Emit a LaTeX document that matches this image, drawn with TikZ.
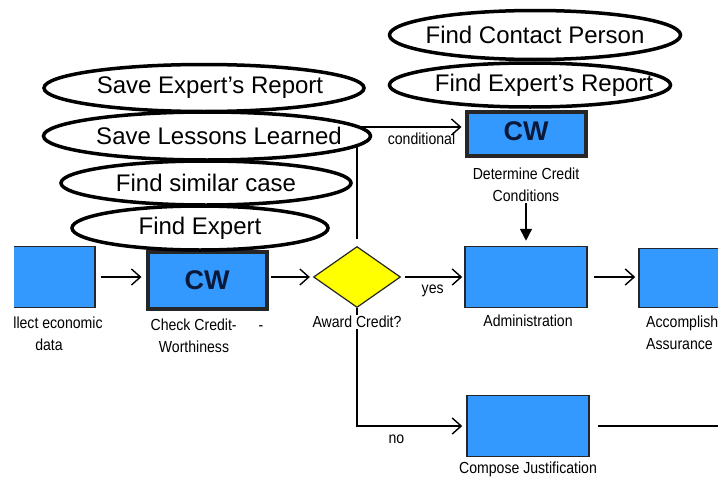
\documentclass[tikz,border=0pt]{standalone}
\usepackage{fontspec}
\setmainfont{Liberation Sans}
\newfontfamily\narrowfont[FakeStretch=0.88]{Liberation Sans}
\usetikzlibrary{shapes.geometric,arrows.meta}
\definecolor{boxblue}{RGB}{51,153,255}
\definecolor{cwnavy}{RGB}{12,24,56}
\definecolor{decyellow}{RGB}{255,255,0}
\tikzset{
  task/.style={draw=black!85,fill=boxblue,line width=1.5pt,minimum width=122pt,minimum height=61pt,inner sep=0pt},
  cwtask/.style={task,line width=4pt,minimum width=119pt,minimum height=57pt,text=cwnavy,font=\fontsize{27}{27}\selectfont\bfseries},
  decision/.style={diamond,draw=black!85,fill=decyellow,line width=1.2pt,aspect=1.43,minimum width=87pt,minimum height=61pt,inner sep=0pt},
  service/.style={ellipse,draw,fill=white,line width=3.5pt,inner xsep=-60pt,inner ysep=0pt,font=\fontsize{24}{24}\selectfont},
  caption/.style={font=\narrowfont\fontsize{16}{22}\selectfont,align=center,fill=white,inner sep=1pt},
  flow/.style={line width=1.5pt,-{Straight Barb[length=9pt,width=16pt,line width=1.4pt]}},
}
\begin{document}
\begin{tikzpicture}[x=1pt,y=-1pt]
\useasboundingbox (0,0) rectangle (718,479);
\clip (14,0) rectangle (718,479);
% process steps
\node[task,minimum width=92pt] (collect) at (49,277) {};
\node[cwtask] (check) at (207,280) {CW};
\node[decision] (award) at (357,277) {};
\node[task] (admin) at (526,277) {};
\node[task,minimum height=59pt] (accomp) at (700,278) {};
\node[task] (compose) at (528,426) {};
\node[cwtask,minimum height=44pt,text depth=6pt] (determine) at (526,134) {CW};
\coordinate (exit) at (740,426);
% connectors
\draw[flow,shorten <=5pt,shorten >=4pt] (collect) -- (collect -| check.west);
\draw[flow,shorten <=2pt,shorten >=3pt] (check.east |- award) -- (award);
\draw[flow,shorten <=4pt,shorten >=2pt] (award) -- (award -| admin.west) node[midway,below=4pt,font=\narrowfont\fontsize{16}{16}\selectfont] {yes};
\draw[flow,shorten <=6pt,shorten >=3pt] (admin) -- (admin -| accomp.west);
\draw[flow,shorten <=7pt,shorten >=3pt] (award) |- ([yshift=7pt]determine.west) node[pos=0.8,below=2pt,font=\narrowfont\fontsize{16}{16}\selectfont] {conditional};
\draw[flow,shorten >=4pt] (award) |- (compose) node[pos=0.68,below=5pt,font=\narrowfont\fontsize{16}{16}\selectfont] {no};
\draw[line width=1.5pt,shorten <=8pt] (compose) -- (exit);
% captions
\node[caption] (collectlbl) at (49,334) {Collect economic\\data};
\node[caption] (checklbl) at (207,336) {Check Credit-\hspace{22pt}-\\Worthiness\hspace*{26pt}};
\node[caption] (awardlbl) at (357,322) {Award Credit?};
\node[caption] (adminlbl) at (528,321) {Administration};
\node[caption,anchor=west,align=left] (accomplbl) at (645,333) {Accomplish\\Assurance};
\node[caption] (detlbl) at (526,185) {Determine Credit\\Conditions};
\node[caption] (composelbl) at (528,469) {Compose Justification};
\draw[line width=1.5pt,-{Triangle[length=12pt,width=12pt]},shorten >=5pt] (detlbl) -- (detlbl |- admin.north);
% knowledge services
\node[service,minimum width=320pt,minimum height=47pt] (saveReport) at (204,88) {\hspace{12pt}Save Expert's Report};
\node[service,minimum width=327pt,minimum height=48pt] (saveLessons) at (207,136) {\hspace{24pt}Save Lessons Learned};
\node[service,minimum width=290pt,minimum height=44pt] (findCase) at (206,183) {Find similar case};
\node[service,minimum width=256pt,minimum height=44pt] (findExpert) at (200,228) {Find Expert\hspace{32pt}};
\node[service,minimum width=291pt,minimum height=49pt] (findContact) at (535,35) {Find Contact Person};
\node[service,minimum width=281pt,minimum height=44pt] (findReport) at (530,85) {\hspace{28pt}Find Expert's Report};
\end{tikzpicture}
\end{document}
